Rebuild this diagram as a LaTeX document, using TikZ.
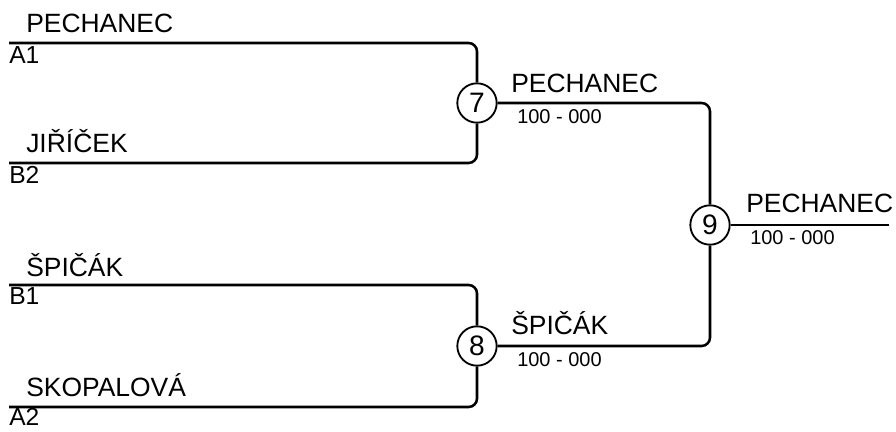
\documentclass[tikz,border=0pt]{standalone}
\usepackage{fontspec}
\setmainfont{Liberation Sans}
\usetikzlibrary{positioning}
\tikzstyle{match}=[circle,draw,line width=1.3pt,minimum size=28pt,inner sep=0pt,font=\fontsize{20}{21}\selectfont]
\tikzstyle{branch} = [draw,line width=1.8pt,rounded corners=6pt]
\tikzstyle{player} = [anchor=base west,inner sep=0pt,font=\fontsize{18.8}{20}\selectfont]
\tikzstyle{seed} = [anchor=base west,inner sep=0pt,font=\fontsize{17.5}{18}\selectfont]
\tikzstyle{score} = [anchor=base west,inner sep=0pt,font=\fontsize{14.2}{15}\selectfont]

\begin{document}
\begin{tikzpicture}[x=0.025cm,y=-0.025cm]
    \useasboundingbox (0,0) rectangle (896,432);

    % First round: the four entry lines
    \foreach \pos/\name in {{(9,43)/a1}, {(9,163)/b2}, {(9,285)/b1}, {(9,407)/a2}}
        \node[coordinate] (\name) at \pos {};

    % Then the match circles
    \foreach \pos/\name/\label in {{(477,103)/m7/7}, {(477,346)/m8/8}, {(710,225)/m9/9}}
        \node[match] (\name) at \pos {\label};
    \coordinate (final) at (889,225);

    % Connect entries and matches
    \foreach \source/ \dest in {a1/m7, b2/m7, b1/m8, a2/m8, m7/m9, m8/m9}
        \path[branch] (\source) -| (\dest);
    \path[branch] (m9) -- (final);

    % Player names above the lines
    \foreach \pos/\name/\label in {{(26,33)/na1/PECHANEC}, {(26,153)/nb2/JIŘÍČEK}, {(26,277)/nb1/ŠPIČÁK}, {(26,397)/na2/SKOPALOVÁ}, {(511,93)/w7/PECHANEC}, {(511,335)/w8/ŠPIČÁK}, {(746,213)/w9/PECHANEC}}
        \node[player] (\name) at \pos {\label};

    % Seeds below the lines
    \foreach \pos/\name/\label in {{(9,64)/sa1/A1}, {(9,184)/sb2/B2}, {(9,305)/sb1/B1}, {(9,426)/sa2/A2}}
        \node[seed] (\name) at \pos {\label};

    % Results
    \foreach \pos/\name/\label in {{(517,124)/r7/100 - 000}, {(517,367)/r8/100 - 000}, {(750,245)/r9/100 - 000}}
        \node[score] (\name) at \pos {\label};

\end{tikzpicture}
\end{document}
